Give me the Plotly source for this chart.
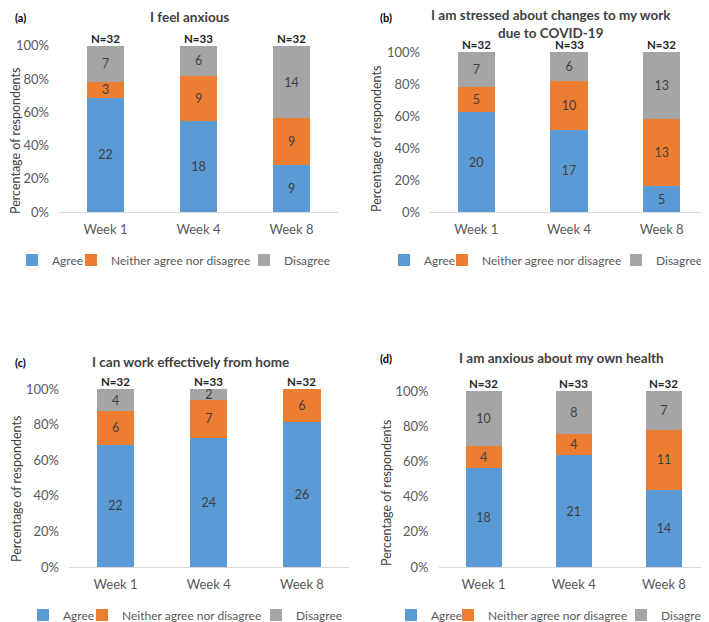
import plotly.graph_objects as go

# the page body has an 8px margin, so the figure is drawn 8px in from the window corner
PAGE_OFF = 8
W, H = 709 - PAGE_OFF, 622 - PAGE_OFF

weeks = ["Week 1", "Week 4", "Week 8"]
categories = ["Agree", "Neither agree nor disagree", "Disagree"]
colors = ["#5B9BD5", "#ED7D31", "#A5A5A5"]
y_tickvals = [0, 20, 40, 60, 80, 100]
y_ticktext = ["0%", "20%", "40%", "60%", "80%", "100%"]

titles = [
    "I feel anxious",
    "I am stressed about changes to my work<br>due to COVID-19",
    "I can work effectively from home",
    "I am anxious about my own health",
]
panel_tags = ["(a)", "(b)", "(c)", "(d)"]

n_a = [32, 33, 32]
n_b = [32, 33, 32]
n_c = [32, 33, 32]
n_d = [32, 33, 32]

a_agree = [22, 18, 9]
a_neither = [3, 9, 9]
a_disagree = [7, 6, 14]

b_agree = [20, 17, 5]
b_neither = [5, 10, 13]
b_disagree = [7, 6, 13]

c_agree = [22, 24, 26]
c_neither = [6, 7, 6]
c_disagree = [4, 2, 0]

d_agree = [18, 21, 14]
d_neither = [4, 4, 11]
d_disagree = [10, 8, 7]

panels = [
    dict(series=[a_agree, a_neither, a_disagree], n=n_a),
    dict(series=[b_agree, b_neither, b_disagree], n=n_b),
    dict(series=[c_agree, c_neither, c_disagree], n=n_c),
    dict(series=[d_agree, d_neither, d_disagree], n=n_d),
]

# layout in window pixels: plot area (x0, x1, ytop, ybottom)
boxes = [
    (59, 338, 45.7, 212),
    (430, 708, 52, 212),
    (69, 348.5, 389, 567),
    (438.5, 709, 391, 567),
]
title_pos = [(189, 17), (551, 24), (190, 362), (561, 358)]
tag_pos = [(20, 17), (386, 17), (20, 362), (386, 358)]
ytitle_pos = [(15, 141), (376, 139), (16, 489), (386, 493)]
legend_text_x = [
    [47, 106, 279],
    [419, 477, 651],
    [58, 117, 291],
    [426, 483, 656],
]
legend_y = [260, 260, 615, 615]

FONT = "Lato, 'Open Sans', sans-serif"
GRAY = "#595959"
DARK = "#404040"


def px(x):
    return (x - PAGE_OFF) / W


def py(y):
    return 1 - (y - PAGE_OFF) / H


fig = go.Figure()
annotations = []
legend_layouts = {}

for i, p in enumerate(panels):
    k = "" if i == 0 else str(i + 1)
    xa, ya = "x" + k, "y" + k
    for j, cat in enumerate(categories):
        vals = p["series"][j]
        li = 3 * i + j + 1
        leg = "legend" if li == 1 else "legend" + str(li)
        fig.add_trace(go.Bar(
            x=weeks, y=vals, name=cat, xaxis=xa, yaxis=ya,
            marker=dict(color=colors[j], line=dict(width=0)),
            width=0.4,
            text=[str(v) if v else "" for v in vals],
            textposition="inside", insidetextanchor="middle", textangle=0,
            textfont=dict(family=FONT, size=12.5, color=DARK),
            legend=leg, showlegend=True, cliponaxis=False,
        ))
        legend_layouts[leg] = dict(
            orientation="h", x=px(legend_text_x[i][j] - 35), y=py(legend_y[i]),
            xanchor="left", yanchor="middle",
            font=dict(family=FONT, size=12, color=GRAY), bgcolor="rgba(0,0,0,0)",
            itemwidth=30, itemclick=False, itemdoubleclick=False,
        )
    x0, x1, yt, yb = boxes[i]
    fig.layout["xaxis" + k] = dict(
        domain=[px(x0), min(1, px(x1))], anchor=ya, range=[-0.5, 2.5],
        showline=True, linecolor="#D9D9D9", linewidth=1, ticks="",
        tickfont=dict(family=FONT, size=13, color=GRAY), showgrid=False,
        ticklabelstandoff=5, fixedrange=True,
    )
    fig.layout["yaxis" + k] = dict(
        domain=[py(yb), py(yt)], anchor=xa, range=[0, 100],
        tickmode="array", tickvals=y_tickvals, ticktext=y_ticktext,
        showgrid=False, zeroline=False, showline=False, ticks="",
        tickfont=dict(family=FONT, size=13, color=GRAY),
        ticklabelstandoff=9, fixedrange=True,
    )
    for w, n in zip(weeks, p["n"]):
        annotations.append(dict(
            x=w, y=100, xref=xa, yref=ya, text=f"N={n}", showarrow=False,
            yanchor="bottom", yshift=-1,
            font=dict(family=FONT, size=11.5, color="#262626", weight="bold"),
        ))
    tx, ty = title_pos[i]
    annotations.append(dict(
        x=px(tx), y=py(ty), xref="paper", yref="paper", text=titles[i],
        showarrow=False, xanchor="center", yanchor="middle",
        font=dict(family=FONT, size=13.5, color=DARK, weight="bold"),
    ))
    gx, gy = tag_pos[i]
    annotations.append(dict(
        x=px(gx), y=py(gy), xref="paper", yref="paper", text=panel_tags[i],
        showarrow=False, xanchor="center", yanchor="middle",
        font=dict(family=FONT, size=11, color="#000000", weight="bold"),
    ))
    ax_, ay_ = ytitle_pos[i]
    annotations.append(dict(
        x=px(ax_), y=py(ay_), xref="paper", yref="paper",
        text="Percentage of respondents", textangle=-90, showarrow=False,
        xanchor="center", yanchor="middle",
        font=dict(family=FONT, size=12.5, color=DARK),
    ))

fig.update_layout(
    width=W, height=H, margin=dict(l=0, r=0, t=0, b=0, autoexpand=False),
    barmode="stack", barnorm="percent",
    plot_bgcolor="white", paper_bgcolor="white",
    annotations=annotations,
    uniformtext=dict(mode="show", minsize=12.5),
    **legend_layouts,
)

fig.write_html("out.html")
